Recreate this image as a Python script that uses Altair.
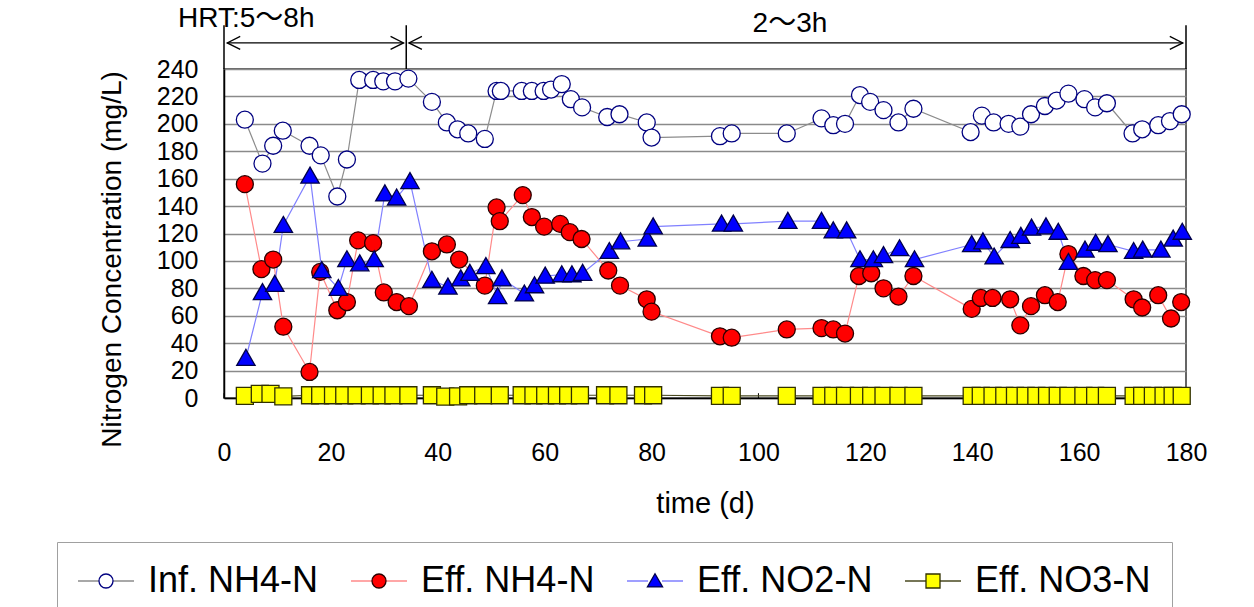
import altair as alt
import pandas as pd

FONT = "Liberation Sans, Arial, Noto Sans CJK JP, sans-serif"

series_names = ["Inf. NH4-N", "Eff. NH4-N", "Eff. NO2-N", "Eff. NO3-N"]

inf_day = [3.9, 7.2, 9.2, 11.0, 16.0, 18.1, 21.2, 23.0, 25.3, 27.9,
           29.8, 32.0, 34.5, 38.9, 41.7, 43.7, 45.7, 48.8, 51.0, 51.8,
           55.7, 57.6, 59.8, 61.2, 63.2, 64.9, 67.0, 71.7, 74.0, 79.1,
           80.0, 92.8, 95.0, 105.3, 111.8, 114.0, 116.2, 119.0, 120.9, 123.4,
           126.2, 129.0, 139.7, 141.8, 144.0, 146.8, 149.0, 151.0, 153.6, 155.8,
           158.0, 161.0, 163.0, 165.2, 170.0, 171.8, 174.8, 177.0, 179.2]
inf_val = [203, 171, 184, 195, 184, 177, 147, 174, 232, 232,
           231, 231, 233, 216, 201, 196, 193, 189, 224, 224,
           224, 224, 224, 225, 229, 218, 212, 205, 207, 201,
           190, 191, 193, 193, 204, 199, 200, 221, 216, 210,
           201, 211, 194, 206, 201, 200, 198, 207, 213, 217,
           222, 218, 212, 215, 193, 196, 199, 202, 207]

nh4_day = [3.9, 7.0, 9.2, 11.1, 16.0, 18.0, 21.2, 23.0, 25.1, 27.9,
           29.9, 32.3, 34.6, 38.9, 41.7, 44.0, 48.8, 51.0, 51.6, 55.9,
           57.6, 59.9, 62.9, 64.7, 66.9, 71.9, 74.1, 79.1, 80.0, 92.8,
           95.0, 105.3, 111.8, 114.0, 116.2, 118.8, 121.1, 123.4, 126.2, 129.0,
           139.9, 141.6, 143.8, 147.1, 149.0, 151.0, 153.6, 156.0, 158.0, 160.8,
           163.0, 165.2, 170.2, 171.8, 174.8, 177.2, 179.1]
nh4_val = [156, 94, 101, 52, 19, 92, 64, 70, 115, 113,
           77, 70, 67, 107, 112, 101, 82, 139, 129, 148,
           132, 125, 127, 121, 116, 93, 82, 72, 63, 45,
           44, 50, 51, 50, 47, 89, 91, 80, 74, 89,
           65, 73, 73, 72, 53, 67, 75, 70, 105, 89,
           86, 86, 72, 66, 75, 58, 70]

no2_day = [4.1, 7.2, 9.5, 11.1, 16.1, 18.3, 21.4, 23.0, 25.4, 28.1,
           30.1, 32.3, 34.8, 38.9, 41.9, 44.3, 46.0, 49.0, 51.2, 52.0,
           56.2, 58.1, 60.1, 63.2, 65.1, 67.1, 72.1, 74.2, 79.2, 80.3,
           93.1, 95.3, 105.5, 111.8, 114.0, 116.5, 119.0, 121.5, 123.4, 126.4,
           129.2, 139.9, 142.0, 144.1, 147.1, 149.1, 151.1, 153.8, 156.1, 158.0,
           161.1, 163.1, 165.4, 170.2, 171.9, 175.3, 177.6, 179.3]
no2_val = [29, 77, 83, 126, 162, 93, 80, 101, 98, 101,
           149, 146, 158, 86, 81, 87, 91, 96, 74, 87,
           76, 82, 89, 90, 90, 91, 107, 114, 116, 125,
           127, 127, 129, 129, 122, 122, 101, 101, 104, 109,
           101, 112, 114, 103, 115, 118, 124, 125, 121, 99,
           108, 113, 112, 107, 108, 108, 116, 121]

no3_day = [3.9, 6.7, 8.7, 11.1, 16.1, 18.0, 20.4, 22.5, 24.8, 27.3,
           29.5, 31.7, 34.5, 38.9, 41.4, 43.8, 45.7, 48.5, 51.6, 55.7,
           57.9, 60.1, 62.3, 64.4, 66.6, 71.3, 73.8, 78.4, 80.3, 92.8,
           95.0, 105.3, 111.8, 114.0, 116.2, 118.8, 121.1, 123.4, 126.2, 129.0,
           139.9, 141.6, 143.8, 146.0, 148.0, 150.0, 152.0, 154.0, 156.0, 158.0,
           160.8, 163.0, 165.2, 170.2, 171.8, 173.8, 175.8, 177.5, 179.2]
no3_val = [1.5, 3, 3, 1.2, 2, 2, 2, 2, 2, 2,
           2, 2, 2, 2, 1, 1.2, 2, 2, 2, 2,
           2, 2, 2, 2, 2, 2, 2, 2, 2, 1.5,
           1.5, 1.5, 1.5, 1.5, 1.5, 1.5, 1.5, 1.5, 1.5, 1.5,
           1.5, 1.5, 1.5, 1.5, 1.5, 1.5, 1.5, 1.5, 1.5, 1.5,
           1.5, 1.5, 1.5, 1.5, 1.5, 1.5, 1.5, 1.5, 1.5]

line_colors = ["#8c8c8c", "#ff8a8a", "#8080ff", "#4a4a20"]
marker_fill = ["#ffffff", "#ff0000", "#0000ff", "#ffff00"]
marker_stroke = ["#000080", "#2a0000", "#00004a", "#303000"]

CIRCLE = "M -2 0 M 2 0 M 0.5 0 A 0.5 0.5 0 1 1 -0.5 0 A 0.5 0.5 0 1 1 0.5 0 Z"
TRIANGLE = "M -2 0 M 2 0 M 0 -0.52 L 0.54 0.42 L -0.54 0.42 Z"
SQUARE = "M -2 0 M 2 0 M -0.5 -0.5 L 0.5 -0.5 L 0.5 0.5 L -0.5 0.5 Z"
marker_paths = [CIRCLE, CIRCLE, TRIANGLE, SQUARE]
LEGEND_LINE = "M -2 0 L -0.5 0 M 0.5 0 L 2 0"

x_ticks = list(range(0, 181, 20))
y_ticks = list(range(0, 241, 20))

# annotation values (data units)
arrow_start = [0.6, 34.6]
arrow_end = [33.6, 179.4]
arrow_level = 259
bar_days = [0, 34.1, 180]
bar_low, bar_high = 240, 272
note_text = ["HRT:5～8h", "2～3h"]
note_day = [-8.6, 105.9]
note_level = [270.6, 267.0]
tick_len = 3.5

rows = []
for name, days, vals in zip(series_names, [inf_day, nh4_day, no2_day, no3_day],
                            [inf_val, nh4_val, no2_val, no3_val]):
    for d, v in zip(days, vals):
        rows.append({"series": name, "lseries": name, "day": d, "value": v})
df = pd.DataFrame(rows)

xscale = alt.Scale(domain=[0, 180], nice=False, zero=False)
yscale = alt.Scale(domain=[0, 240], nice=False)

xaxis = alt.Axis(values=x_ticks, title="time (d)", labelFontSize=25, titleFontSize=29,
                 titleFontWeight="normal", labelPadding=42, ticks=False, grid=False,
                 domainColor="#000000", domainWidth=1.5, titleX=481, titleY=105,
                 titleBaseline="middle", titleAlign="center", labelFlush=False,
                 labelColor="#000000", titleColor="#000000", labelFont=FONT, titleFont=FONT)
yaxis = alt.Axis(values=y_ticks, title="Nitrogen Concentration (mg/L)", labelFontSize=25,
                 titleFontSize=28, titleFontWeight="normal", labelPadding=26, ticks=False,
                 grid=True, gridColor="#8a8a8a", gridWidth=1.5, domainColor="#000000",
                 domainWidth=1.5, titleX=-112, titleY=190, titleAngle=270,
                 titleAlign="center", titleBaseline="middle", labelFlush=False,
                 labelColor="#000000", titleColor="#000000", labelFont=FONT, titleFont=FONT)

X = alt.X("day:Q", scale=xscale, axis=xaxis)
Y = alt.Y("value:Q", scale=yscale, axis=yaxis)

LEG_X = 57 - 224
LEG_Y = 542 - 69

common_leg = dict(orient="none", legendX=LEG_X, legendY=LEG_Y, direction="horizontal",
                  title=None, labelFontSize=36, labelFont=FONT, labelColor="#000000",
                  labelOffset=24, symbolOffset=10, columnPadding=29, padding=21,
                  symbolSize=784, symbolStrokeWidth=1.3, labelLimit=400)

line_legend = alt.Legend(symbolType=LEGEND_LINE, labelOpacity=0, **common_leg)
point_legend = alt.Legend(strokeColor="#a0a0a0", symbolOpacity=1, **common_leg)

base = alt.Chart(df)

lines = base.mark_line(strokeWidth=1.2, clip=False).encode(
    x=X, y=Y,
    color=alt.Color("lseries:N", sort=series_names,
                    scale=alt.Scale(range=line_colors), legend=line_legend),
)

ticks_df = pd.DataFrame({"day": x_ticks, "value": [0] * len(x_ticks),
                         "value2": [tick_len] * len(x_ticks)})
tick_marks = alt.Chart(ticks_df).mark_rule(color="#000000", strokeWidth=1).encode(
    x=X, y=Y, y2="value2:Q")

points = base.mark_point(filled=True, size=1156, strokeWidth=1.3, opacity=1, clip=False).encode(
    x=X, y=Y,
    fill=alt.Fill("series:N", scale=alt.Scale(domain=series_names, range=marker_fill),
                  legend=point_legend),
    stroke=alt.Stroke("series:N", scale=alt.Scale(domain=series_names, range=marker_stroke),
                      legend=point_legend),
    shape=alt.Shape("series:N", scale=alt.Scale(domain=series_names, range=marker_paths),
                    legend=point_legend),
)

arrow_df = pd.DataFrame({"day": arrow_start, "day2": arrow_end,
                         "value": [arrow_level] * len(arrow_start)})
arrow_lines = alt.Chart(arrow_df).mark_rule(color="#000000", strokeWidth=1.3, clip=False).encode(
    x=X, x2="day2:Q", y=Y)
left_heads = alt.Chart(pd.DataFrame({"day": arrow_start, "value": [arrow_level] * 2})).mark_point(
    shape="M 1 -0.5 L 0 0 L 1 0.5", size=676, filled=False, stroke="#000000",
    strokeWidth=1.3, opacity=1, clip=False).encode(x=X, y=Y)
right_heads = alt.Chart(pd.DataFrame({"day": arrow_end, "value": [arrow_level] * 2})).mark_point(
    shape="M -1 -0.5 L 0 0 L -1 0.5", size=676, filled=False, stroke="#000000",
    strokeWidth=1.3, opacity=1, clip=False).encode(x=X, y=Y)
bars = alt.Chart(pd.DataFrame({"day": bar_days, "value": [bar_low] * 3,
                               "value2": [bar_high] * 3})).mark_rule(
    color="#000000", strokeWidth=1.5, clip=False).encode(x=X, y=Y, y2="value2:Q")

note1 = alt.Chart(pd.DataFrame({"day": note_day[:1], "value": note_level[:1],
                                "txt": note_text[:1]})).mark_text(
    align="left", baseline="alphabetic", fontSize=28, font=FONT, color="#000000",
    clip=False).encode(x=X, y=Y, text="txt:N")
note2 = alt.Chart(pd.DataFrame({"day": note_day[1:], "value": note_level[1:],
                                "txt": note_text[1:]})).mark_text(
    align="center", baseline="alphabetic", fontSize=28, font=FONT, color="#000000",
    clip=False).encode(x=X, y=Y, text="txt:N")

chart = alt.layer(
    tick_marks, lines, points, arrow_lines, left_heads, right_heads, bars, note1, note2
).properties(
    width=962, height=329,
    autosize=alt.AutoSizeParams(type="none"),
    padding={"left": 224, "top": 69, "right": 68, "bottom": 209},
    background="#ffffff",
).configure(font=FONT).configure_view(stroke="#333333", strokeWidth=1.5)

chart.save("out.html", embed_options={"renderer": "svg", "actions": False})
